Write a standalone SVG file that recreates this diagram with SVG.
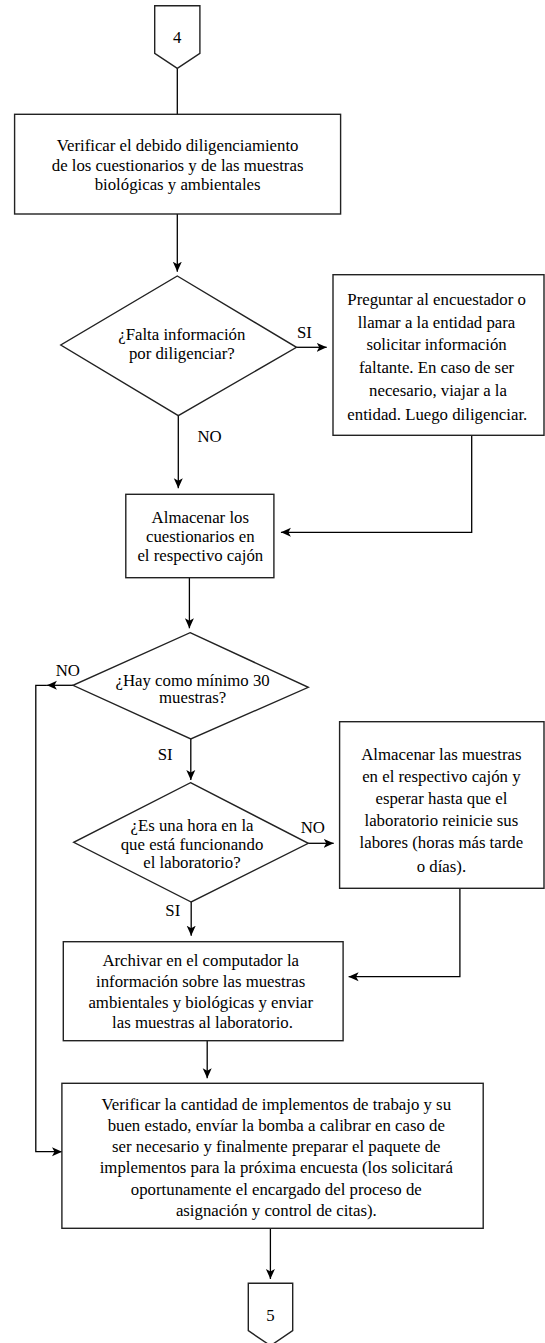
<svg xmlns="http://www.w3.org/2000/svg" width="545" height="1343" viewBox="0 0 545 1343">
<style>
.shape{fill:#fff;stroke:#222;stroke-width:1.4}
.ln{fill:none;stroke:#000;stroke-width:1.3}
text{font-family:"Liberation Serif","Times New Roman",serif;font-size:16.8px;fill:#000;text-anchor:middle;dominant-baseline:central}
</style>
<defs>
<marker id="ah" viewBox="0 0 10 10" refX="10" refY="5" markerWidth="10" markerHeight="10" markerUnits="userSpaceOnUse" orient="auto">
<path d="M0,0.5 L10,5 L0,9.5 L2.5,5 Z" fill="#000"/>
</marker>
</defs>
<g id="connectors">
<path class="ln" d="M177.3,68.3 V114.3"/>
<path class="ln" d="M177.3,214 V271.7" marker-end="url(#ah)"/>
<path class="ln" d="M296.5,347.3 H326.7" marker-end="url(#ah)"/>
<path class="ln" d="M178.3,415.7 V488.3" marker-end="url(#ah)"/>
<path class="ln" d="M471.7,435.3 V532.3 H280.9" marker-end="url(#ah)"/>
<path class="ln" d="M189.4,577.7 V628.3" marker-end="url(#ah)"/>
<path class="ln" d="M73,685.3 H46.9" marker-end="url(#ah)"/>
<path class="ln" d="M46.9,685.3 H35.8 V1151.7 H62" marker-end="url(#ah)"/>
<path class="ln" d="M190.8,739 V780" marker-end="url(#ah)"/>
<path class="ln" d="M308.3,843.3 H333.7" marker-end="url(#ah)"/>
<path class="ln" d="M191.2,902 V935.7" marker-end="url(#ah)"/>
<path class="ln" d="M459.9,888.3 V976.7 H348.6" marker-end="url(#ah)"/>
<path class="ln" d="M207.2,1040.7 V1078.3" marker-end="url(#ah)"/>
<path class="ln" d="M270.4,1228.3 V1279" marker-end="url(#ah)"/>
<text x="304.5" y="332.7">SI</text>
<text x="209.6" y="436.7">NO</text>
<text x="67.8" y="670">NO</text>
<text x="165.1" y="754.3">SI</text>
<text x="312.8" y="827.7">NO</text>
<text x="172.8" y="910">SI</text>
</g>
<g id="start4">
<path class="shape" d="M154.7,5.7 H199.9 V53.3 L177.3,68.3 L154.7,53.3 Z"/>
<text x="177.3" y="37.7">4</text>
</g>
<g id="verificar">
<rect class="shape" x="14.6" y="114.3" width="326" height="99.7"/>
<text x="177.6" y="145.7">Verificar el debido diligenciamiento</text>
<text x="177.6" y="165.7">de los cuestionarios y de las muestras</text>
<text x="177.6" y="184.3">biológicas y ambientales</text>
</g>
<g id="falta">
<path class="shape" d="M177.3,276 L296.5,347.3 L178.3,415.7 L60.8,345 Z"/>
<text x="181.8" y="334">¿Falta información</text>
<text x="181.8" y="353.3">por diligenciar?</text>
</g>
<g id="preguntar">
<rect class="shape" x="333" y="274.7" width="211" height="160.6"/>
<text x="436.6" y="299.3">Preguntar al encuestador o</text>
<text x="436.6" y="322">llamar a la entidad para</text>
<text x="436.6" y="344.3">solicitar información</text>
<text x="436.6" y="367.7">faltante. En caso de ser</text>
<text x="438" y="390.7">necesario, viajar a la</text>
<text x="437.3" y="414">entidad. Luego diligenciar.</text>
</g>
<g id="almacenar-cuest">
<rect class="shape" x="125.8" y="494.3" width="148.1" height="83.4"/>
<text x="200.3" y="517.3">Almacenar los</text>
<text x="200.3" y="536.7">cuestionarios en</text>
<text x="200.3" y="555.7">el respectivo cajón</text>
</g>
<g id="hay30">
<path class="shape" d="M190.1,632.7 L308.3,687.3 L190.8,739 L73,685.3 Z"/>
<text x="192.6" y="680.7">¿Hay como mínimo 30</text>
<text x="192.6" y="697.7">muestras?</text>
</g>
<g id="hora">
<path class="shape" d="M190.5,782.7 L308.3,843.3 L191.2,902 L73.7,842.3 Z"/>
<text x="192" y="825.3">¿Es una hora en la</text>
<text x="192" y="844.3">que está funcionando</text>
<text x="192" y="862.7">el laboratorio?</text>
</g>
<g id="almacenar-muestras">
<rect class="shape" x="339.6" y="721.7" width="204.4" height="166.6"/>
<text x="441.4" y="754">Almacenar las muestras</text>
<text x="441.4" y="776">en el respectivo cajón y</text>
<text x="441.4" y="798.3">esperar hasta que el</text>
<text x="441.4" y="820.7">laboratorio reinicie sus</text>
<text x="441.4" y="842.7">labores (horas más tarde</text>
<text x="441.4" y="866">o días).</text>
</g>
<g id="archivar">
<rect class="shape" x="63.3" y="941.7" width="279.8" height="99"/>
<text x="200.7" y="960.7">Archivar en el computador la</text>
<text x="200.7" y="981.7">información sobre las muestras</text>
<text x="200.7" y="1002.3">ambientales y biológicas y enviar</text>
<text x="202.5" y="1022.7">las muestras al laboratorio.</text>
</g>
<g id="verificar-implementos">
<rect class="shape" x="61.9" y="1083.3" width="421.3" height="145"/>
<text x="276.3" y="1104">Verificar la cantidad de implementos de trabajo y su</text>
<text x="276.3" y="1125.7">buen estado, envíar la bomba a calibrar en caso de</text>
<text x="276.3" y="1146.7">ser necesario y finalmente preparar el paquete de</text>
<text x="276.3" y="1167.7">implementos para la próxima encuesta (los solicitará</text>
<text x="276.3" y="1189.3">oportunamente el encargado del proceso de</text>
<text x="276.3" y="1210">asignación y control de citas).</text>
</g>
<g id="end5">
<path class="shape" d="M248.3,1283.3 H292.7 V1330.7 L270.5,1345.7 L248.3,1330.7 Z"/>
<text x="270.5" y="1315.7">5</text>
</g>
</svg>
